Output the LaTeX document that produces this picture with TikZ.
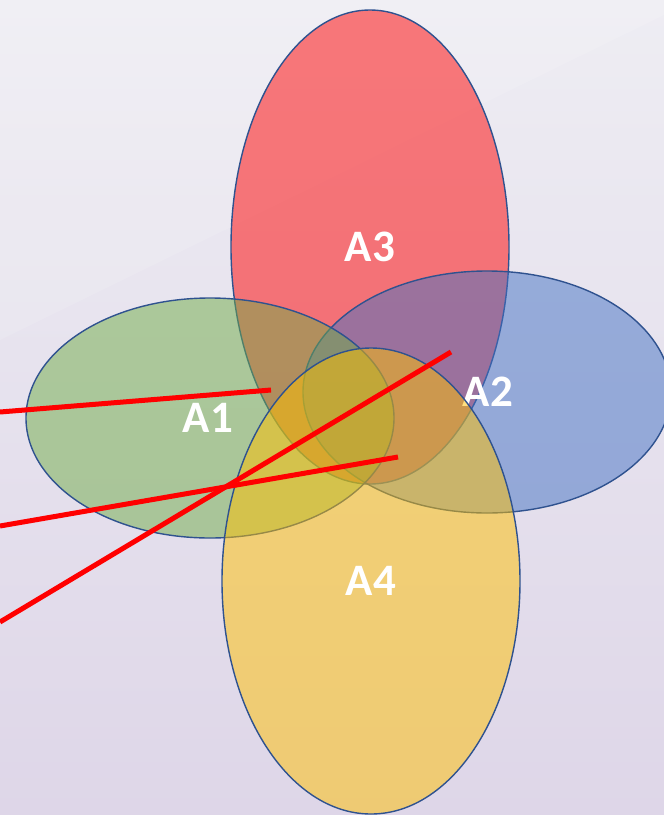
\documentclass[tikz,border=0pt]{standalone}
\usepackage{fontspec}
\setmainfont{Carlito}
\usetikzlibrary{shapes.geometric}
\definecolor{bgtop}{RGB}{238,237,243}
\definecolor{bgbot}{RGB}{222,214,232}
\definecolor{outl}{RGB}{47,82,143}
\definecolor{cred}{RGB}{255,0,0}
\definecolor{cblue}{RGB}{68,114,196}
\definecolor{cgreen}{RGB}{112,173,71}
\definecolor{cgold}{RGB}{255,192,0}
\tikzset{
  setell/.style={ellipse, draw=outl, line width=1.4pt, inner sep=0pt,
    fill opacity=0.5, draw opacity=1, text opacity=1, text=white,
    font=\bfseries\fontsize{45}{45}\selectfont},
  redline/.style={draw=red, line width=5pt}
}
\begin{document}
\begin{tikzpicture}[x=1pt,y=-1pt]
\useasboundingbox (0,0) rectangle (664,815);
\shade[top color=bgtop, bottom color=bgbot] (0,0) rectangle (664,815);
\fill[white, opacity=0.12] (0,0) -- (664,0) -- (664,15) -- (0,340) -- cycle;
\node[setell, fill=cred, minimum width=278pt, minimum height=474pt] (A3) at (370,247) {A3};
\node[setell, fill=cblue, minimum width=368pt, minimum height=242pt] (A2) at (487,392) {\raisebox{-3pt}{\hspace{2pt}A2}};
\node[setell, fill=cgreen, minimum width=368pt, minimum height=240pt] (A1) at (210,418) {\raisebox{-2pt}{\hspace{-4pt}A1}};
\node[setell, fill=cgold, minimum width=298pt, minimum height=466pt] (A4) at (371,581) {A4};
\coordinate (l1a) at (0,412);
\coordinate (l1b) at (271,390);
\coordinate (l2a) at (0,526);
\coordinate (l2b) at (398,457);
\coordinate (l3a) at (0,622);
\coordinate (l3b) at (451,352);
\draw[redline] (l1a) -- (l1b);
\draw[redline] (l2a) -- (l2b);
\draw[redline] (l3a) -- (l3b);
\end{tikzpicture}
\end{document}
